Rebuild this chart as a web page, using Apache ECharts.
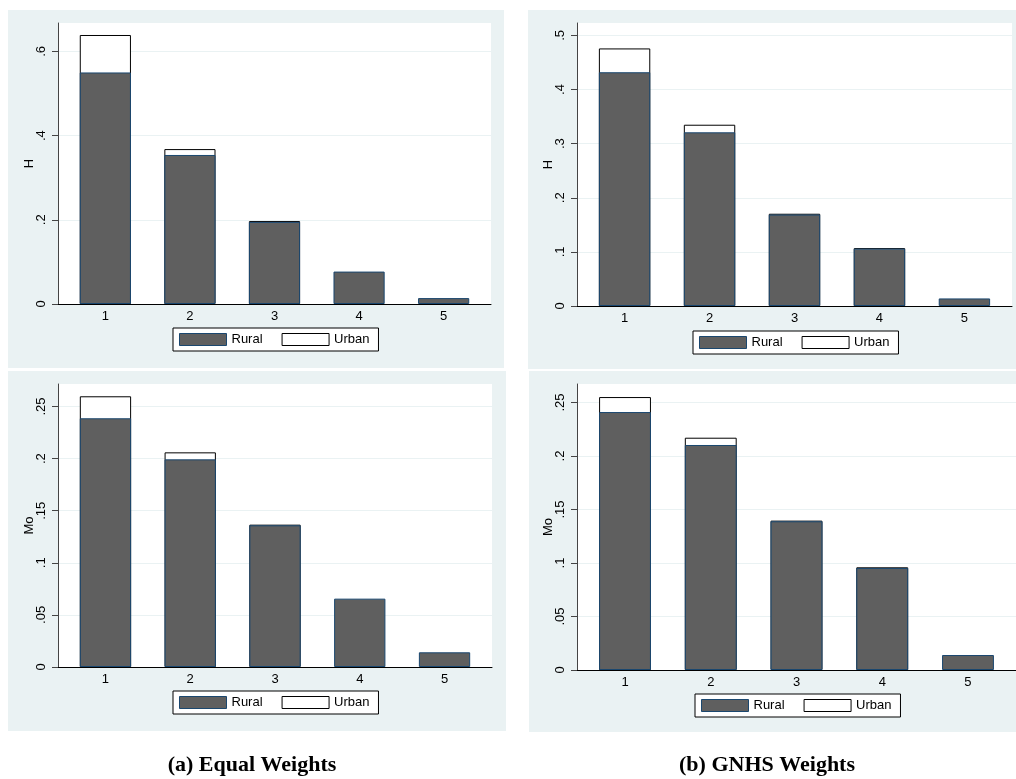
<!DOCTYPE html>
<html>
<head>
<meta charset="utf-8">
<script src="https://cdn.jsdelivr.net/npm/echarts@6/dist/echarts.min.js"></script>
<style>
  html, body { margin: 0; padding: 0; background: #ffffff; }
  #chart { width: 1016px; height: 779px; }
</style>
</head>
<body>
<div id="chart"></div>
<script>
// Deprivation cut-off k on the horizontal axis
const categories = [1, 2, 3, 4, 5];

// Headcount ratio H, contributions of rural and urban areas
const hEqualRural = [0.550, 0.354, 0.195, 0.077, 0.014];
const hEqualUrban = [0.089, 0.014, 0.002, 0, 0];
const hGnhsRural  = [0.432, 0.321, 0.169, 0.106, 0.014];
const hGnhsUrban  = [0.044, 0.014, 0.0015, 0.001, 0];

// Adjusted headcount ratio Mo, contributions of rural and urban areas
const moEqualRural = [0.2387, 0.1993, 0.136, 0.0656, 0.0141];
const moEqualUrban = [0.0211, 0.0067, 0.0006, 0, 0];
const moGnhsRural  = [0.2411, 0.2103, 0.139, 0.0953, 0.014];
const moGnhsUrban  = [0.014, 0.0068, 0.0006, 0.0007, 0];

// Y-axis tick values
const hEqualTicks = [0, 0.2, 0.4, 0.6];
const hGnhsTicks  = [0, 0.1, 0.2, 0.3, 0.4, 0.5];
const moTicks     = [0, 0.05, 0.1, 0.15, 0.2, 0.25];

const seriesNames = ['Rural', 'Urban'];
const captions = ['(a) Equal Weights', '(b) GNHS Weights'];

const SANS = '"Liberation Sans", Arial, sans-serif';
const PANEL_BG = '#eaf2f3';
const RURAL_FILL = '#5f5f5f';
const RURAL_EDGE = '#1a476f';

const panels = [
  { grid: { left: 58,  top: 23,  width: 433, height: 281 }, yMax: 0.6675, ticks: hEqualTicks, yName: 'H',
    rural: hEqualRural, urban: hEqualUrban, legend: { left: 173, top: 328 },
    bg: { x: 8, y: 10, width: 496, height: 358 } },
  { grid: { left: 577, top: 23,  width: 435, height: 283 }, yMax: 0.523, ticks: hGnhsTicks, yName: 'H',
    rural: hGnhsRural, urban: hGnhsUrban, legend: { left: 693, top: 331 },
    bg: { x: 528, y: 10, width: 488, height: 359 } },
  { grid: { left: 58,  top: 384, width: 434, height: 283 }, yMax: 0.2716, ticks: moTicks, yName: 'Mo',
    rural: moEqualRural, urban: moEqualUrban, legend: { left: 173, top: 691 },
    bg: { x: 8, y: 371, width: 498, height: 360 } },
  { grid: { left: 577, top: 384, width: 439, height: 286 }, yMax: 0.2673, ticks: moTicks, yName: 'Mo',
    rural: moGnhsRural, urban: moGnhsUrban, legend: { left: 695, top: 694 },
    bg: { x: 529, y: 371, width: 487, height: 361 } }
];

// Stata-style tick labels: ".2" instead of "0.2"
const fmtTick = v => (v === 0 ? '0' : String(+v.toFixed(4)).replace(/^0\./, '.'));

const grids = [], xAxes = [], yAxes = [], series = [], legends = [], graphics = [];

panels.forEach((p, i) => {
  graphics.push({ type: 'rect', z: -10, shape: p.bg, style: { fill: PANEL_BG } });

  grids.push(Object.assign({ show: true, backgroundColor: '#ffffff', borderWidth: 0, containLabel: false }, p.grid));

  xAxes.push({
    type: 'value', gridIndex: i, min: 0.44, max: 5.56,
    axisLine: { show: true, lineStyle: { color: '#000000', width: 1 } },
    axisTick: { show: false },
    splitLine: { show: false },
    axisLabel: { customValues: categories, color: '#000000', fontSize: 13, fontFamily: SANS, margin: 6,
                 formatter: v => String(v) }
  });

  yAxes.push({
    type: 'value', gridIndex: i, min: 0, max: p.yMax,
    name: p.yName, nameLocation: 'middle', nameGap: 22, nameRotate: 90, nameMoveOverlap: false,
    nameTextStyle: { color: '#000000', fontSize: 13, fontFamily: SANS },
    axisLine: { show: true, lineStyle: { color: '#444444', width: 1 } },
    axisTick: { show: true, length: 6, customValues: p.ticks, lineStyle: { color: '#444444' } },
    axisLabel: { customValues: p.ticks, rotate: 90, margin: 10, color: '#000000', fontSize: 13,
                 fontFamily: SANS, formatter: fmtTick },
    splitLine: { show: true, lineStyle: { color: PANEL_BG, width: 1 } }
  });

  // Urban share sits on top of the rural share: the white box spans 0..(rural + urban)
  // and the rural bar is drawn over its lower part.
  series.push({
    name: seriesNames[1], type: 'bar', xAxisIndex: i, yAxisIndex: i,
    barWidth: '60.5%', barGap: '-100%', animation: false, z: 2,
    itemStyle: { color: '#ffffff', borderColor: '#000000', borderWidth: 1 },
    data: categories.map((c, j) => [c, p.urban[j] > 0 ? p.rural[j] + p.urban[j] : '-'])
  });
  series.push({
    name: seriesNames[0], type: 'bar', xAxisIndex: i, yAxisIndex: i,
    barWidth: '60.5%', barGap: '-100%', animation: false, z: 3,
    itemStyle: { color: RURAL_FILL, borderColor: RURAL_EDGE, borderWidth: 1 },
    data: categories.map((c, j) => [c, p.rural[j]])
  });

  legends.push({
    left: p.legend.left, top: p.legend.top, orient: 'horizontal',
    itemWidth: 47, itemHeight: 12, itemGap: 19, padding: [5, 9, 5, 6],
    backgroundColor: '#ffffff', borderColor: '#000000', borderWidth: 1,
    selectedMode: false,
    textStyle: { color: '#000000', fontSize: 13, fontFamily: SANS },
    data: [
      { name: seriesNames[0], icon: 'rect', itemStyle: { color: RURAL_FILL, borderColor: RURAL_EDGE, borderWidth: 1 } },
      { name: seriesNames[1], icon: 'rect', itemStyle: { color: '#ffffff', borderColor: '#000000', borderWidth: 1 } }
    ]
  });
});

graphics.push({ type: 'text', x: 252, y: 765,
  style: { text: captions[0], textAlign: 'center', textVerticalAlign: 'middle',
           font: 'bold 22px "Liberation Serif", "Times New Roman", serif', fill: '#000000' } });
graphics.push({ type: 'text', x: 767, y: 765,
  style: { text: captions[1], textAlign: 'center', textVerticalAlign: 'middle',
           font: 'bold 22px "Liberation Serif", "Times New Roman", serif', fill: '#000000' } });

const chart = echarts.init(document.getElementById('chart'), null, { renderer: 'canvas' });
chart.setOption({
  backgroundColor: '#ffffff',
  animation: false,
  graphic: graphics,
  grid: grids,
  xAxis: xAxes,
  yAxis: yAxes,
  legend: legends,
  series: series
});
</script>
</body>
</html>
